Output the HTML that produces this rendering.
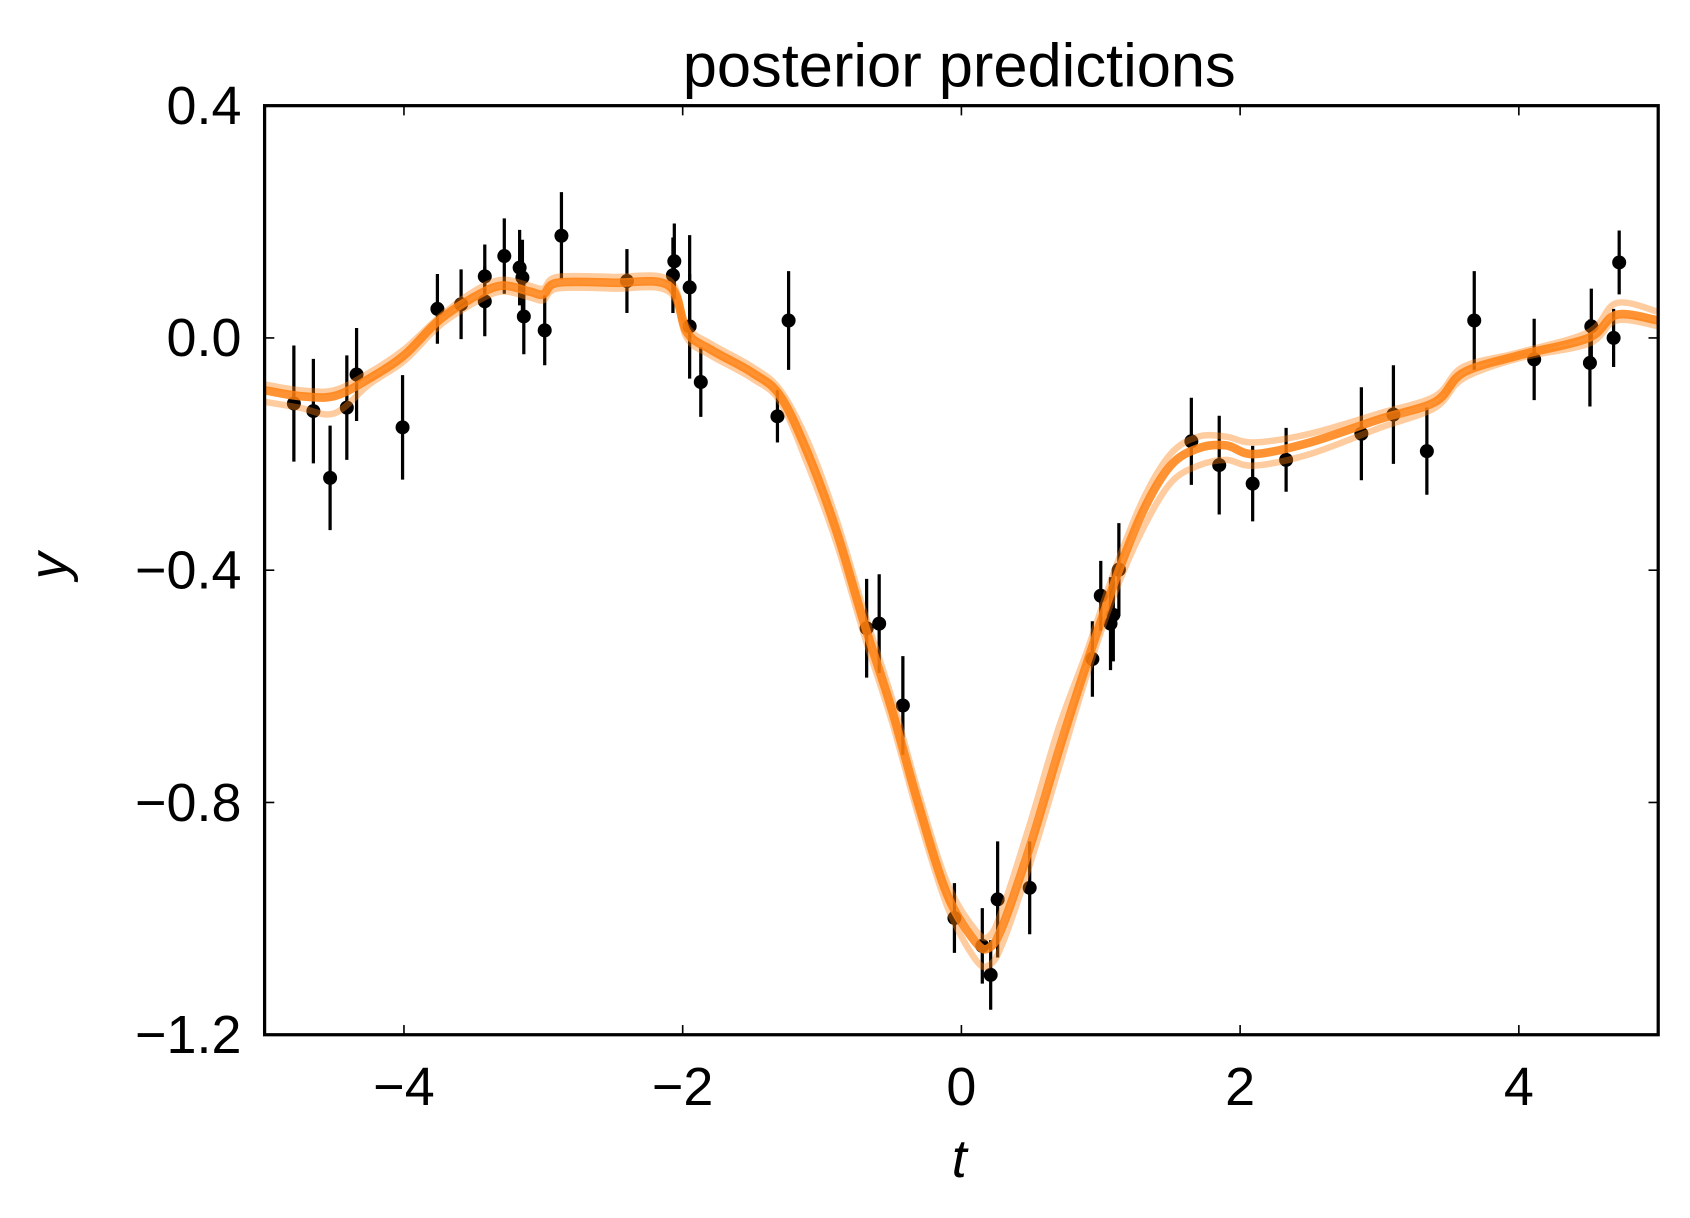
<!DOCTYPE html>
<html><head><meta charset="utf-8">
<style>
html,body{margin:0;padding:0;background:#fff;}
svg{display:block;}
text{font-family:"Liberation Sans","DejaVu Sans",sans-serif;fill:#000;}
</style></head>
<body>
<svg id="chart" width="1690" height="1218" viewBox="0 0 1568 1130" xmlns="http://www.w3.org/2000/svg">
<text x="890" y="80" font-size="57" text-anchor="middle">posterior predictions</text>
<g id="points"></g>
<g id="curves"></g>
<rect x="245.5" y="98" width="1293" height="862" fill="none" stroke="#000" stroke-width="3"/>
<g id="ticks"></g>
<text x="890" y="1092" font-size="50" font-style="italic" text-anchor="middle">t</text>
<text x="62" y="525" font-size="50" font-style="italic" text-anchor="middle" transform="rotate(-90 62 525)">y</text>
</svg>
<script>
const dataT = [-4.79,-4.65,-4.53,-4.41,-4.34,-4.01,-3.76,-3.59,-3.42,-3.42,-3.28,-3.17,-3.15,-3.14,-2.99,-2.87,-2.40,-2.07,-2.06,-1.95,-1.95,-1.87,-1.32,-1.24,-0.68,-0.59,-0.42,-0.05,0.15,0.21,0.26,0.49,0.94,1.00,1.07,1.09,1.13,1.65,1.85,2.09,2.33,2.87,3.10,3.34,3.68,4.11,4.51,4.52,4.68,4.72];
const dataY = [-0.113,-0.126,-0.241,-0.12,-0.063,-0.154,0.05,0.058,0.063,0.106,0.141,0.121,0.104,0.037,0.013,0.176,0.098,0.108,0.132,0.087,0.02,-0.076,-0.135,0.03,-0.5,-0.492,-0.633,-0.999,-1.047,-1.097,-0.967,-0.947,-0.553,-0.444,-0.492,-0.477,-0.399,-0.178,-0.219,-0.251,-0.21,-0.165,-0.132,-0.195,0.03,-0.037,-0.043,0.02,0.0,0.13];
const dataErr = [0.1,0.09,0.09,0.09,0.08,0.09,0.06,0.06,0.06,0.055,0.065,0.065,0.065,0.065,0.06,0.075,0.055,0.065,0.065,0.09,0.09,0.06,0.045,0.085,0.085,0.085,0.085,0.06,0.065,0.06,0.1,0.08,0.065,0.06,0.08,0.08,0.08,0.075,0.085,0.065,0.055,0.08,0.085,0.075,0.085,0.07,0.075,0.065,0.05,0.055];
const curveT = [-5,-4.75,-4.5,-4.25,-4,-3.75,-3.5,-3.3,-3.1,-3.0,-2.9,-2.5,-2.1,-1.97,-1.8,-1.5,-1.3,-1.1,-0.9,-0.7,-0.5,-0.3,-0.1,0.1,0.2,0.3,0.5,0.7,0.9,1.1,1.3,1.5,1.7,1.9,2.1,2.5,3.0,3.4,3.6,4.0,4.5,4.7,5];
const curveMean = [-0.09,-0.1,-0.1,-0.07,-0.03,0.03,0.07,0.09,0.08,0.075,0.095,0.095,0.09,0.01,-0.02,-0.06,-0.1,-0.2,-0.33,-0.49,-0.64,-0.81,-0.96,-1.04,-1.05,-1.01,-0.87,-0.71,-0.56,-0.42,-0.3,-0.22,-0.19,-0.185,-0.2,-0.18,-0.14,-0.11,-0.06,-0.03,0.0,0.04,0.03];
const curveUpper = [-0.08,-0.09,-0.09,-0.06,-0.02,0.035,0.08,0.1,0.09,0.085,0.105,0.105,0.1,0.02,-0.01,-0.05,-0.09,-0.18,-0.31,-0.47,-0.62,-0.79,-0.94,-1.02,-1.03,-0.98,-0.83,-0.67,-0.54,-0.4,-0.28,-0.2,-0.17,-0.17,-0.18,-0.165,-0.13,-0.1,-0.05,-0.025,0.01,0.06,0.045];
const curveLower = [-0.11,-0.12,-0.13,-0.08,-0.04,0.02,0.06,0.08,0.07,0.065,0.085,0.085,0.08,0.0,-0.03,-0.07,-0.11,-0.22,-0.35,-0.51,-0.66,-0.83,-0.98,-1.07,-1.08,-1.04,-0.9,-0.74,-0.58,-0.44,-0.33,-0.25,-0.22,-0.21,-0.22,-0.2,-0.155,-0.12,-0.07,-0.035,-0.01,0.03,0.02];
const xTicks = [-4,-2,0,2,4];
const xTickLabels = ["\u22124","\u22122","0","2","4"];
const yTicks = [0.4,0,-0.4,-0.8,-1.2];
const yTickLabels = ["0.4","0.0","\u22120.4","\u22120.8","\u22121.2"];

const NS="http://www.w3.org/2000/svg";
const X0=245.5,X1=1538.5,Y0=98,Y1=960;
function xs(t){return X0+(t+5)/10*(X1-X0);}
function ys(v){return Y0+(0.4-v)/1.6*(Y1-Y0);}
function mk(tag,attrs,parent){const e=document.createElementNS(NS,tag);for(const k in attrs)e.setAttribute(k,attrs[k]);parent.appendChild(e);return e;}

const gp=document.getElementById('points');
for(let i=0;i<dataT.length;i++){
  const l=mk('line',{x1:xs(dataT[i]),x2:xs(dataT[i]),y1:ys(dataY[i]+dataErr[i]),y2:ys(dataY[i]-dataErr[i]),stroke:'#000','stroke-width':3},gp);
  
  
  const c=mk('circle',{cx:xs(dataT[i]),cy:ys(dataY[i]),r:6.5,fill:'#000'},gp);
  
  
}
const gc=document.getElementById('curves');
function path(arr){
  const p=arr.map((v,i)=>[xs(curveT[i]),ys(v)]);
  let d='M'+p[0][0].toFixed(1)+' '+p[0][1].toFixed(1);
  for(let i=0;i<p.length-1;i++){
    const a=p[Math.max(0,i-1)],b=p[i],c=p[i+1],e=p[Math.min(p.length-1,i+2)];
    const c1=[b[0]+(c[0]-a[0])/6,b[1]+(c[1]-a[1])/6],c2=[c[0]-(e[0]-b[0])/6,c[1]-(e[1]-b[1])/6];
    d+=' C'+c1[0].toFixed(1)+' '+c1[1].toFixed(1)+' '+c2[0].toFixed(1)+' '+c2[1].toFixed(1)+' '+c[0].toFixed(1)+' '+c[1].toFixed(1);
  }
  return d;
}
const up=mk('path',{d:path(curveUpper),fill:'none',stroke:'#ff7f0e','stroke-opacity':0.4,'stroke-width':6,'stroke-linejoin':'round'},gc);


const lo=mk('path',{d:path(curveLower),fill:'none',stroke:'#ff7f0e','stroke-opacity':0.4,'stroke-width':6,'stroke-linejoin':'round'},gc);


const mn=mk('path',{d:path(curveMean),fill:'none',stroke:'#ff7f0e','stroke-opacity':0.85,'stroke-width':8,'stroke-linejoin':'round'},gc);



const gt=document.getElementById('ticks');
xTicks.forEach((t,i)=>{
  const x=xs(t);
  mk('line',{x1:x,x2:x,y1:Y1,y2:Y1-9,stroke:'#000','stroke-width':1.5},gt);
  mk('line',{x1:x,x2:x,y1:Y0,y2:Y0+9,stroke:'#000','stroke-width':1.5},gt);
  const tx=mk('text',{x:x,y:1025,'font-size':50,'text-anchor':'middle'},gt);
  tx.textContent=xTickLabels[i];
  
  
});
yTicks.forEach((v,i)=>{
  const y=ys(v);
  mk('line',{x1:X0,x2:X0+9,y1:y,y2:y,stroke:'#000','stroke-width':1.5},gt);
  mk('line',{x1:X1,x2:X1-9,y1:y,y2:y,stroke:'#000','stroke-width':1.5},gt);
  const tx=mk('text',{x:224,y:y+17,'font-size':50,'text-anchor':'end'},gt);
  tx.textContent=yTickLabels[i];
  
  
});
</script>
</body></html>
